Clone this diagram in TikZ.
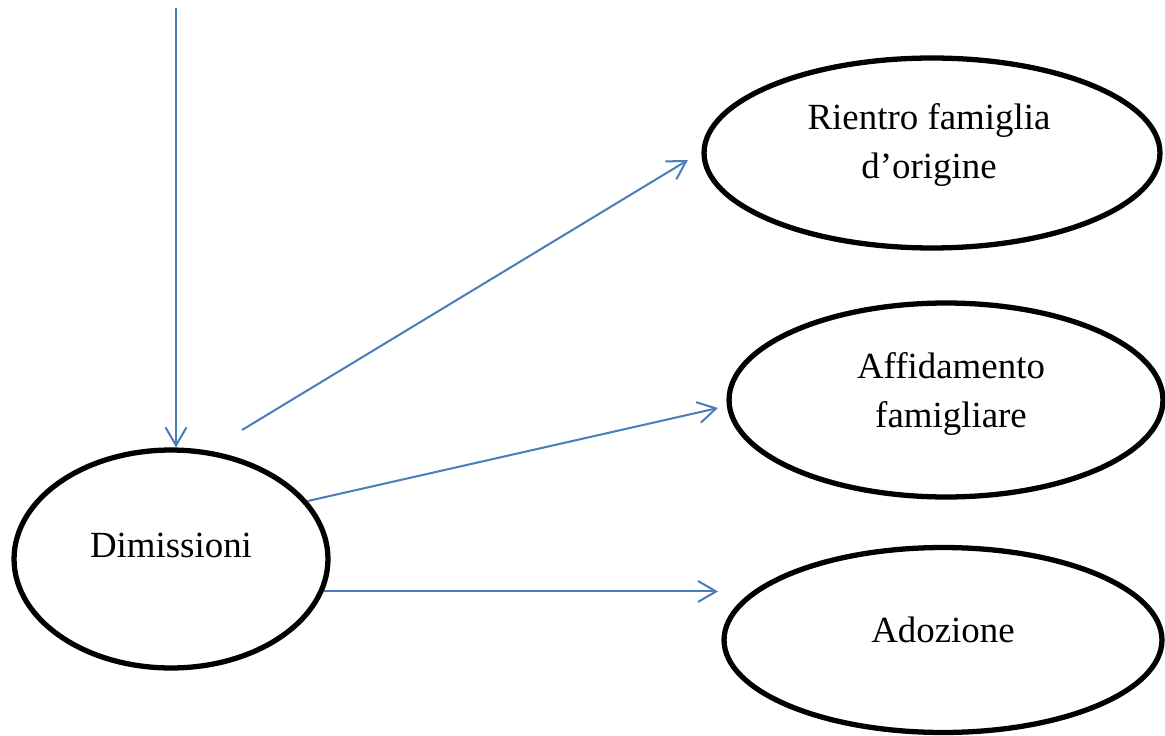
\documentclass[tikz,border=0pt]{standalone}
\usepackage{xcolor}
\usepackage{tikz}
\usetikzlibrary{positioning,shapes.geometric,arrows.meta}
\usepackage{fontspec}
\setmainfont{Liberation Serif}
\definecolor{arrowblue}{RGB}{74,126,187}

\begin{document}
\begin{tikzpicture}[x=0.02cm, y=-0.02cm,
    oval/.style={ellipse, draw=black, line width=3pt, inner sep=0pt},
    txt/.style={align=center, font=\fontsize{21}{27.5}\selectfont},
    conn/.style={draw=arrowblue, line width=1.15pt,
      -{Straight Barb[length=0.36cm, width=0.42cm, line width=1.15pt]}}]
    \useasboundingbox (0,0) rectangle (1165,736);

    % ovals
    \node[oval, minimum width=6.28cm, minimum height=4.36cm] (dim) at (171,559) {};
    \node[oval, minimum width=9.12cm, minimum height=3.8cm] (rientro) at (932,153) {};
    \node[oval, minimum width=8.68cm, minimum height=3.88cm] (affido) at (946,400) {};
    \node[oval, minimum width=8.76cm, minimum height=3.7cm] (adoz) at (943,640) {};

    \node[txt] (dimtxt) at ([yshift=0.28cm]dim.center) {Dimissioni};
    \node[txt] (rientrotxt) at ([xshift=-0.06cm, yshift=0.16cm]rientro.center) {Rientro famiglia\\d’origine};
    \node[txt] (affidotxt) at ([xshift=0.1cm, yshift=0.12cm]affido.center) {Affidamento\\famigliare};
    \node[txt] (adoztxt) at ([yshift=0.2cm]adoz.center) {Adozione};

    % connectors
    \coordinate (entry) at (176,8);
    \coordinate (fork) at (242,430);
    \coordinate (rientroin) at (688,160);
    \coordinate (affidoin) at (718,408);
    \coordinate (adozin) at (718,592);

    \draw[conn] (entry) -- (entry |- dim.north);
    \draw[conn] (fork) -- (rientroin);
    \draw[conn] (dim.23) -- (affidoin);
    \draw[conn] (dim.-12) -- (dim.-12 -| adozin);
  \end{tikzpicture}
\end{document}
